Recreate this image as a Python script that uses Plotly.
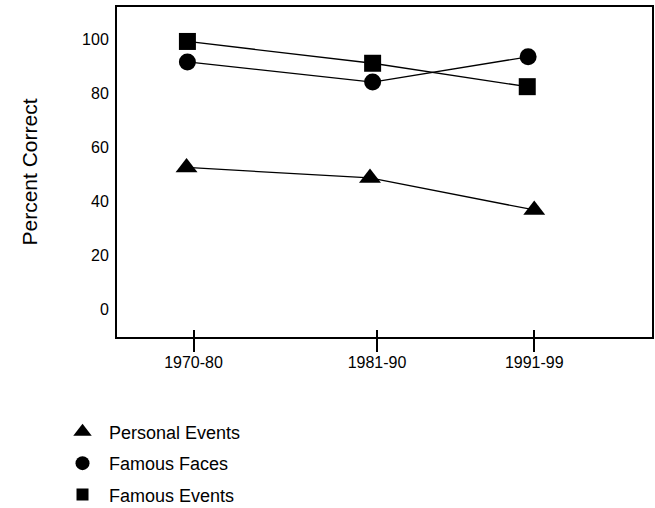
import plotly.graph_objects as go

# Period positions (axis units) and labels
tick_pos = [1975, 1985.5, 1994.5]
tick_labels = ["1970-80", "1981-90", "1991-99"]

# Series values (x slightly offset as drawn in the reference)
personal_x = [1974.6, 1985.1, 1994.5]
personal = [52.6, 48.7, 36.8]
faces_x = [1974.65, 1985.25, 1994.15]
faces = [91.8, 84.3, 93.7]
events_x = [1974.65, 1985.25, 1994.1]
events = [99.4, 91.3, 82.6]

y_ticks = [0, 20, 40, 60, 80, 100]

FONT = "Liberation Sans, Arial, sans-serif"

fig = go.Figure()

series = [
    ("Personal Events", personal_x, personal, "triangle-up", 19, 16),
    ("Famous Faces", faces_x, faces, "circle", 17, 14),
    ("Famous Events", events_x, events, "square", 17, 12),
]

for name, xs, ys, sym, size, lsize in series:
    fig.add_trace(go.Scatter(
        x=xs, y=ys, mode="lines+markers", name=name, showlegend=False,
        line=dict(color="black", width=1.3),
        marker=dict(symbol=sym, size=size, color="black"),
    ))

for i, (name, xs, ys, sym, size, lsize) in enumerate(series):
    fig.add_trace(go.Scatter(
        x=[None], y=[None], mode="markers", name=name, legendgroup=f"g{i}",
        marker=dict(symbol=sym, size=lsize, color="black"),
    ))

# empty trace so the overlaid tick axis (ticks crossing the line) is drawn
fig.add_trace(go.Scatter(x=[None], y=[None], xaxis="x2", yaxis="y",
                         showlegend=False, hoverinfo="skip"))

xr = [1970.62, 2001.24]
fig.update_layout(
    width=655, height=508,
    margin=dict(l=117, r=3, t=7, b=171, autoexpand=False),
    paper_bgcolor="white", plot_bgcolor="white",
    font=dict(family=FONT, color="black"),
    xaxis=dict(
        range=xr, tickvals=tick_pos, ticktext=tick_labels, automargin=False,
        ticks="outside", ticklen=13, tickwidth=1.5, tickcolor="black",
        showline=True, linewidth=2, linecolor="black", mirror=True,
        showgrid=False, zeroline=False, tickfont=dict(size=16),
        ticklabelstandoff=-3,
    ),
    xaxis2=dict(
        range=xr, tickvals=tick_pos, overlaying="x", anchor="y", side="bottom",
        automargin=False,
        ticks="inside", ticklen=7, tickwidth=1.5, tickcolor="black",
        showticklabels=False, showline=False, showgrid=False, zeroline=False,
    ),
    yaxis=dict(
        range=[-10.4, 112.2], tickvals=y_ticks, ticks="", automargin=False,
        showline=True, linewidth=2, linecolor="black", mirror=True,
        showgrid=False, zeroline=False, tickfont=dict(size=16),
        ticklabelstandoff=3,
        title=dict(text="Percent Correct", font=dict(size=21), standoff=39),
    ),
    legend=dict(
        x=-0.114, xanchor="left", y=-0.232, yanchor="top",
        font=dict(size=18), tracegroupgap=5, bgcolor="rgba(0,0,0,0)",
        itemwidth=43,
    ),
)

fig.write_html("out.html", config={"displayModeBar": False},
               post_script="document.body.style.margin='0';")
